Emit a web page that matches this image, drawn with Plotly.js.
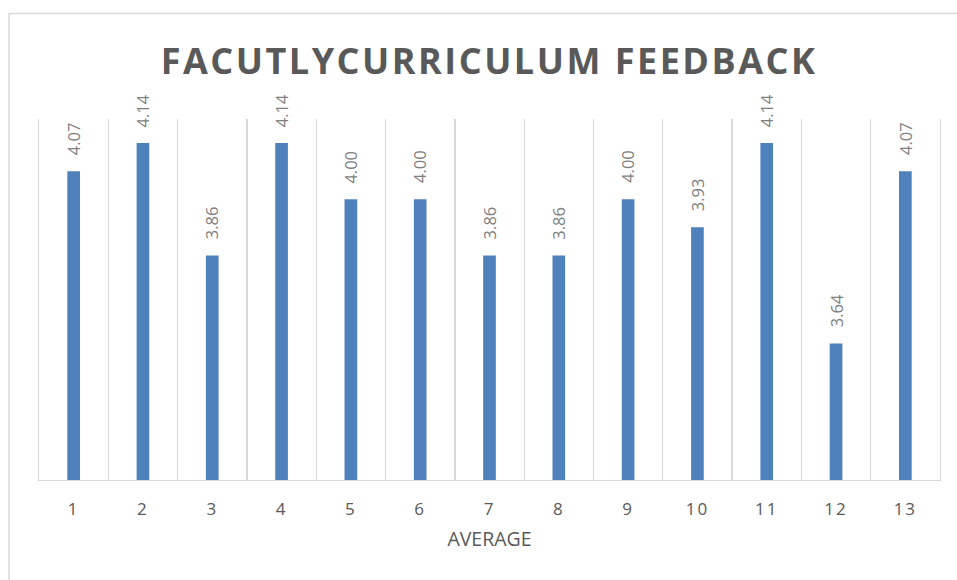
<!DOCTYPE html>
<html>
<head>
<meta charset="utf-8">
<script src="https://cdn.plot.ly/plotly-3.0.1.min.js"></script>
<style>
html,body{margin:0;padding:0;background:#fff;}
#chart{width:957px;height:580px;}
</style>
</head>
<body>
<div id="chart"></div>
<script>
const categories = ['1','2','3','4','5','6','7','8','9','10','11','12','13'];
const averages = [4.07, 4.14, 3.86, 4.14, 4.00, 4.00, 3.86, 3.86, 4.00, 3.93, 4.14, 3.64, 4.07];
const chartTitle = 'FACUTLYCURRICULUM FEEDBACK';
const xTitle = 'AVERAGE';

const trace = {
  type: 'bar',
  x: categories,
  y: averages,
  marker: {color: '#4F81BD'},
  hoverinfo: 'x+y'
};

// annotations on a category axis are placed by category index
const labelAnnotations = categories.map((c, i) => ({
  x: i,
  y: averages[i],
  xref: 'x',
  yref: 'y',
  text: averages[i].toFixed(2),
  showarrow: false,
  textangle: -90,
  yanchor: 'bottom',
  xanchor: 'center',
  yshift: 14,
  font: {family: 'Open Sans, sans-serif', size: 16.5, color: '#7F7F7F'}
}));

const layout = {
  width: 957,
  height: 580,
  margin: {l: 39, r: 16.5, t: 119, b: 100},
  paper_bgcolor: '#ffffff',
  plot_bgcolor: '#ffffff',
  bargap: 0.817,
  showlegend: false,
  title: {
    text: chartTitle,
    x: 0.511,
    xanchor: 'center',
    y: 0.895,
    yanchor: 'middle',
    font: {family: 'Open Sans, sans-serif', size: 36, color: '#595959', weight: 'bold'}
  },
  xaxis: {
    type: 'category',
    range: [-0.5, categories.length - 0.5],
    tickson: 'boundaries',
    showgrid: true,
    gridcolor: '#D9D9D9',
    gridwidth: 1.3,
    showline: true,
    linecolor: '#D9D9D9',
    linewidth: 1.3,
    ticks: '',
    ticklabelstandoff: 13,
    tickfont: {family: 'Open Sans, sans-serif', size: 17, color: '#595959'},
    zeroline: false,
    title: {
      text: xTitle,
      standoff: 13,
      font: {family: 'Open Sans, sans-serif', size: 19.5, color: '#595959'}
    }
  },
  yaxis: {
    range: [3.3, 4.2],
    showgrid: false,
    zeroline: false,
    showticklabels: false,
    ticks: '',
    showline: true,
    mirror: true,
    linecolor: '#D9D9D9',
    linewidth: 1.3
  },
  annotations: labelAnnotations,
  shapes: [{
    type: 'rect',
    xref: 'paper', yref: 'paper',
    x0: -0.0333, x1: 1.02, y0: -0.29, y1: 1.2922,
    line: {color: '#D9D9D9', width: 1.5},
    fillcolor: 'rgba(0,0,0,0)',
    layer: 'below'
  }]
};

Plotly.newPlot('chart', [trace], layout, {displayModeBar: false, staticPlot: true}).then(() => {
  const t = document.querySelector('#chart .gtitle');
  if (t) t.style.letterSpacing = '2.5px';
  document.querySelectorAll('#chart .xtick text').forEach(e => e.style.letterSpacing = '2px');
});
</script>
</body>
</html>
